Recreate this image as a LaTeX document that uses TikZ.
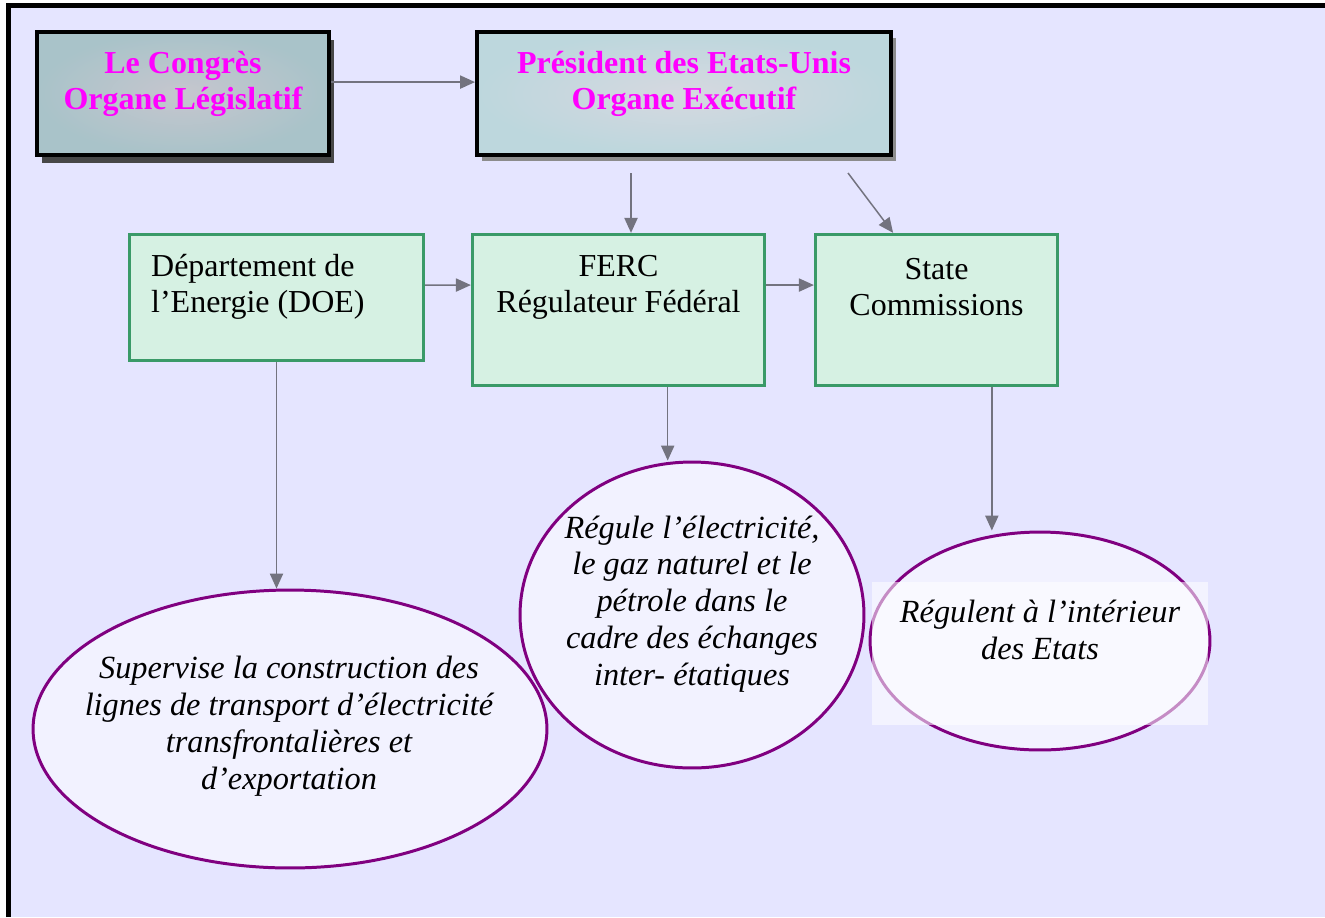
\documentclass[tikz,border=0pt]{standalone}
\usepackage{fontspec}
\setmainfont{Liberation Serif}
\usetikzlibrary{arrows.meta,shapes.geometric,shadows}
\definecolor{pagebg}{HTML}{E5E5FF}
\definecolor{linkgray}{HTML}{73737F}
\definecolor{boxgreen}{HTML}{3A9A68}
\definecolor{boxfill}{HTML}{D6F1E3}
\definecolor{ovalline}{HTML}{800080}
\definecolor{ovalfill}{HTML}{F2F2FF}
\definecolor{headpink}{HTML}{FF00FF}
\definecolor{congresin}{HTML}{C6C6CE}
\definecolor{congresout}{HTML}{A9C3C9}
\definecolor{presin}{HTML}{D6D8E0}
\definecolor{presout}{HTML}{BDD7DD}
\begin{document}
\begin{tikzpicture}[x=0.02cm,y=-0.02cm]
    \tikzset{
        headbox/.style={draw=black, line width=2.3pt, inner sep=0pt, minimum height=2.46cm},
        headtext/.style={align=center, text=headpink, font=\fontsize{18.2}{20.5}\selectfont\bfseries},
        greenbox/.style={draw=boxgreen, fill=boxfill, line width=1.9pt, inner sep=0pt},
        boxtext/.style={font=\fontsize{18.2}{20.4}\selectfont},
        oval/.style={ellipse, draw=ovalline, fill=ovalfill, line width=1.7pt, inner sep=0pt},
        ovaltext/.style={align=center, font=\fontsize{18.4}{21}\selectfont\itshape},
        link/.style={draw=linkgray, line width=0.85pt, -{Triangle[length=8.5pt,width=7.5pt]}}
    }
    \useasboundingbox (0,0) rectangle (1325,917);
    \fill[pagebg] (8,5) rectangle (1325,917);
    \draw[black, line width=2.3pt] (8.5,917) -- (8.5,5.5) -- (1325,5.5);
    % top row
    \node[headbox, minimum width=5.84cm, shade, inner color=congresin, outer color=congresout,
          drop shadow={shadow xshift=3pt, shadow yshift=-4.5pt, fill=black!72, opacity=1}] (congres) at (183,93.5) {};
    \node[headtext] (congresText) at (183,84) {Le Congrès\\Organe Législatif};
    \node[headbox, minimum width=8.28cm, shade, inner color=presin, outer color=presout,
          drop shadow={shadow xshift=2.8pt, shadow yshift=-3.5pt, fill=black!45, opacity=1}] (president) at (684,93.5) {};
    \node[headtext] (presidentText) at (684,84) {Président des Etats-Unis\\Organe Exécutif};
    % middle row
    \node[greenbox, minimum width=5.88cm, minimum height=2.52cm] (doe) at (276.5,297.5) {};
    \node[boxtext, align=left, anchor=west] (doeText) at (145,287) {Département de\\l’Energie (DOE)};
    \node[greenbox, minimum width=5.84cm, minimum height=3.02cm] (ferc) at (618.5,310) {};
    \node[boxtext, align=center] (fercText) at (618.5,287) {FERC\\Régulateur Fédéral};
    \node[greenbox, minimum width=4.84cm, minimum height=3.02cm] (state) at (936.5,310) {};
    \node[boxtext, align=center] (stateText) at (936.5,287) {State\\Commissions};
    % ovals
    \node[oval, minimum width=10.28cm, minimum height=5.56cm] (supervise) at (290,729) {};
    \node[ovaltext] (superviseText) at (289,726) {Supervise la construction des\\lignes de transport d’électricité\\transfrontalières et\\d’exportation};
    \node[oval, minimum width=6.88cm, minimum height=6.12cm] (regule) at (692,615) {};
    \node[ovaltext] (reguleText) at (692,604) {Régule l’électricité,\\le gaz naturel et le\\pétrole dans le\\cadre des échanges\\inter- étatiques};
    \node[oval, minimum width=6.8cm, minimum height=4.36cm] (regulent) at (1040,641) {};
    \fill[white, opacity=0.55] (872,582) rectangle (1208,725);
    \node[ovaltext] (regulentText) at (1040,630) {Régulent à l’intérieur\\des Etats};
    % connectors
    \coordinate (presFoot1) at (631,173);
    \coordinate (presFoot2) at (848,173);
    \coordinate (fercFoot) at ([xshift=28pt]ferc.south);
    \coordinate (stateFoot) at ([xshift=31.5pt]state.south);
    \draw[link] ([yshift=6.5pt]congres.east) -- ([yshift=6.5pt]president.west);
    \draw[link] ([yshift=7.1pt]doe.east) -- ([yshift=14.2pt]ferc.west);
    \draw[link] ([yshift=14.2pt]ferc.east) -- ([yshift=14.2pt]state.west);
    \draw[link] (presFoot1) -- (presFoot1 |- ferc.north);
    \draw[link] (presFoot2) -- ([xshift=-24.7pt]state.north);
    \draw[link] (doe.south) -- (doe.south |- supervise.north);
    \draw[link] (fercFoot) -- (fercFoot |- regule.north);
    \draw[link] (stateFoot) -- (stateFoot |- regulent.north);
\end{tikzpicture}
\end{document}
